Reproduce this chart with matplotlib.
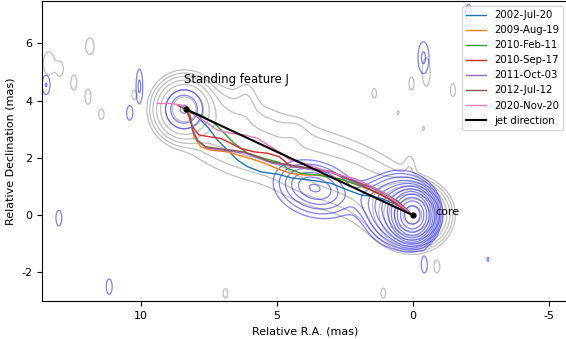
import numpy as np
import matplotlib
matplotlib.use("Agg")
import matplotlib.pyplot as plt

# ---- image models (elliptical gaussian components) ----
# columns: ra, dec, amplitude, sigma_major, sigma_minor, angle (deg)
gray_comps = [
    (0.0, 0.0, 1.0, 0.46, 0.40, 0),
    (0.6, 0.3, 0.03, 0.6, 0.55, 0),
    (1.5, 0.9, 0.011, 0.8, 0.7, 25),
    (2.6, 1.4, 0.010, 0.8, 0.7, 25),
    (3.8, 1.7, 0.010, 0.8, 0.75, 25),
    (5.0, 2.3, 0.009, 0.8, 0.7, 25),
    (6.2, 2.6, 0.010, 0.8, 0.75, 25),
    (7.3, 3.2, 0.014, 0.7, 0.7, 25),
    (8.4, 3.7, 0.3, 0.45, 0.45, 0),
    (6.1, 4.0, 0.004, 0.25, 0.5, 0),
    (0.1, 1.7, 0.004, 0.15, 0.35, 0),
    (4.3, 2.9, 0.003, 0.3, 0.3, 0),
    # isolated patches
    (11.86, 5.9, 0.0048, 0.16, 0.3, 0),
    (13.37, 5.3, 0.005, 0.2, 0.4, 0),
    (12.95, 5.1, 0.0045, 0.12, 0.25, 0),
    (12.45, 4.63, 0.0045, 0.12, 0.3, 0),
    (11.93, 4.14, 0.0045, 0.12, 0.3, 0),
    (11.44, 3.53, 0.0042, 0.12, 0.22, 0),
    (10.23, 4.2, 0.0042, 0.1, 0.2, 0),
    (-0.5, 5.0, 0.0055, 0.13, 0.45, 0),
    (0.04, 4.6, 0.0045, 0.1, 0.25, 0),
    (1.41, 4.26, 0.0042, 0.1, 0.2, 0),
    (-1.48, 4.37, 0.0045, 0.1, 0.25, 0),
    (0.53, 3.58, 0.0036, 0.06, 0.12, 0),
    (-0.4, 3.03, 0.0036, 0.06, 0.12, 0),
    (-0.89, -1.8, 0.0045, 0.12, 0.25, 0),
    (1.08, -2.73, 0.0042, 0.1, 0.22, 0),
    (6.88, -2.73, 0.0042, 0.1, 0.2, 0),
]
blue_comps = [
    (0.0, 0.0, 1.0, 0.33, 0.38, 0),
    (0.5, 0.2, 0.08, 0.6, 0.6, 0),
    (1.5, 0.55, 0.008, 0.5, 0.4, 20),
    (3.6, 0.95, 0.035, 0.5, 0.3, 15),
    (3.6, 0.9, 0.022, 0.95, 0.6, 15),
    (8.4, 3.7, 0.015, 0.5, 0.5, 0),
    # isolated patches
    (13.47, 4.55, 0.0095, 0.15, 0.35, 0),
    (10.04, 4.5, 0.01, 0.12, 0.6, 0),
    (10.4, 3.57, 0.009, 0.12, 0.28, 0),
    (-0.4, 5.5, 0.01, 0.2, 0.55, 0),
    (13.0, -0.1, 0.009, 0.12, 0.3, 0),
    (11.15, -2.5, 0.009, 0.12, 0.3, 0),
    (-0.43, -1.75, 0.009, 0.12, 0.3, 0),
    (-2.77, -1.55, 0.0075, 0.05, 0.1, 0),
    (-2.05, 7.05, 0.009, 0.12, 0.35, 0),
]
gray_base, gray_step, gray_n = 0.003, 2.0, 9
blue_base, blue_step, blue_n = 0.006, 1.55, 12

# ---- component trajectories (R.A., Dec in mas) ----
epochs = ['2002-Jul-20', '2009-Aug-19', '2010-Feb-11', '2010-Sep-17',
          '2011-Oct-03', '2012-Jul-12', '2020-Nov-20']
ra_2002 = [8.34, 7.91, 7.54, 7.17, 6.80, 6.43, 6.06, 5.57, 4.90, 4.46, 3.73, 2.99,
           2.37, 1.88, 1.51, 1.14, 0.53, 0.0]
dec_2002 = [3.70, 3.44, 3.09, 2.62, 2.27, 1.92, 1.69, 1.51, 1.42, 1.30, 1.22, 1.11,
            0.87, 0.70, 0.66, 0.58, 0.35, 0.0]
ra_2009 = [8.34, 8.18, 8.13, 8.03, 7.79, 7.42, 6.80, 6.19, 5.57, 4.90, 4.46, 3.97,
           3.36, 2.74, 2.00, 1.20, 0.50, 0.0]
dec_2009 = [3.70, 3.56, 3.21, 2.74, 2.39, 2.27, 2.21, 2.04, 1.86, 1.60, 1.46, 1.40,
            1.40, 1.28, 1.05, 0.75, 0.35, 0.0]
ra_2010a = [8.34, 7.79, 7.29, 6.92, 6.56, 6.06, 5.45, 4.90, 4.59, 4.10, 3.50, 2.60,
            1.80, 1.10, 0.50, 0.0]
dec_2010a = [3.70, 3.50, 3.21, 2.86, 2.51, 2.16, 1.98, 1.84, 1.63, 1.46, 1.40, 1.25,
             0.98, 0.70, 0.36, 0.0]
ra_2010b = [8.34, 8.22, 8.09, 7.85, 7.48, 7.05, 6.68, 6.31, 5.82, 5.32, 4.90, 4.46,
            3.73, 2.99, 2.25, 1.51, 0.90, 0.0]
dec_2010b = [3.70, 3.44, 3.09, 2.80, 2.74, 2.68, 2.51, 2.33, 2.21, 2.16, 2.04, 1.69,
             1.63, 1.52, 1.22, 0.87, 0.58, 0.0]
ra_2011 = [8.60, 8.34, 8.16, 8.07, 7.89, 7.58, 7.15, 6.66, 6.17, 5.67, 5.18, 4.44,
           3.71, 2.97, 2.23, 1.49, 1.00, 0.51, 0.0]
dec_2011 = [3.82, 3.70, 3.40, 2.93, 2.58, 2.35, 2.29, 2.23, 2.17, 2.00, 1.82, 1.71,
            1.59, 1.48, 1.18, 0.95, 0.72, 0.44, 0.0]
ra_2012 = [8.65, 8.34, 8.18, 8.09, 7.91, 7.60, 7.17, 6.68, 6.19, 5.69, 5.20, 4.46,
           3.73, 2.99, 2.25, 1.51, 1.02, 0.53, 0.0]
dec_2012 = [3.85, 3.70, 3.44, 2.97, 2.62, 2.39, 2.33, 2.27, 2.21, 2.04, 1.86, 1.75,
            1.63, 1.52, 1.22, 0.99, 0.76, 0.47, 0.0]
ra_2020 = [9.38, 8.89, 8.52, 8.34, 7.91, 7.54, 7.17, 6.68, 6.19, 5.69, 5.32, 4.90,
           4.46, 3.97, 3.36, 2.74, 2.13, 1.51, 1.02, 0.53, 0.0]
dec_2020 = [3.90, 3.90, 3.85, 3.75, 3.44, 3.21, 2.97, 2.86, 2.80, 2.68, 2.45, 2.21,
            1.90, 1.81, 1.60, 1.42, 1.28, 1.01, 0.76, 0.41, 0.0]
tracks = [(ra_2002, dec_2002), (ra_2009, dec_2009), (ra_2010a, dec_2010a),
          (ra_2010b, dec_2010b), (ra_2011, dec_2011), (ra_2012, dec_2012),
          (ra_2020, dec_2020)]

jet_ra = [8.34, 0.0]
jet_dec = [3.70, 0.0]


def model_image(comps, X, Y):
    img = np.zeros_like(X)
    for x0, y0, a, s1, s2, ang in comps:
        t = np.radians(ang)
        u = (X - x0) * np.cos(t) + (Y - y0) * np.sin(t)
        v = -(X - x0) * np.sin(t) + (Y - y0) * np.cos(t)
        img += a * np.exp(-0.5 * ((u / s1) ** 2 + (v / s2) ** 2))
    return img


xg = np.linspace(-7, 15, 700)
yg = np.linspace(-4, 8.5, 420)
X, Y = np.meshgrid(xg, yg)

fig = plt.figure(figsize=(5.66, 3.39), dpi=100)
ax = fig.add_axes([42 / 566, 38 / 339, 1 - 42 / 566 + 0.004, 1 - 38 / 339 - 0.003])

ax.contour(X, Y, model_image(gray_comps, X, Y),
           levels=gray_base * gray_step ** np.arange(gray_n),
           colors='gray', alpha=0.5, linewidths=0.9)
ax.contour(X, Y, model_image(blue_comps, X, Y),
           levels=blue_base * blue_step ** np.arange(blue_n),
           colors='blue', alpha=0.5, linewidths=0.9)

for (ra, dec), lab in zip(tracks, epochs):
    ax.plot(ra, dec, lw=1.0, label=lab)
ax.plot(jet_ra, jet_dec, 'k-', lw=1.5, label='jet direction')
ax.plot(jet_ra, jet_dec, 'ko', ms=3.5)

ax.text(8.4, 4.6, 'Standing feature J', fontsize=8.4)
ax.text(-0.85, 0.02, 'core', fontsize=8)

ax.set_xlim(13.62, -5.72)
ax.set_ylim(-3.0, 7.48)
ax.set_xticks([10, 5, 0, -5])
ax.set_xticklabels(['10', '5', '0', '-5'])
ax.set_yticks([-2, 0, 2, 4, 6])
ax.set_yticklabels(['-2', '0', '2', '4', '6'])
ax.tick_params(labelsize=8)
ax.set_xlabel('Relative R.A. (mas)', fontsize=8)
ax.set_ylabel('Relative Declination (mas)', fontsize=8)
ax.legend(loc='upper right', fontsize=7.3, borderaxespad=0.5, handlelength=2.0,
          labelspacing=0.5)

fig.savefig('out.png', dpi=100)
